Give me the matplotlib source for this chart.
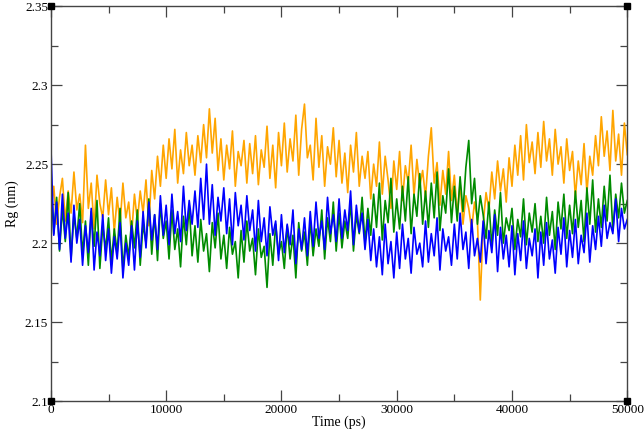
import numpy as np
import matplotlib
matplotlib.use('Agg')
import matplotlib.pyplot as plt

# Rg traces, one sample every 250 ps
time_step = 250
rg_orange = [
    2.220, 2.236, 2.212, 2.229, 2.241, 2.214, 2.233, 2.219, 2.245, 2.221,
    2.231, 2.213, 2.262, 2.222, 2.238, 2.209, 2.243, 2.225, 2.216, 2.240,
    2.218, 2.235, 2.207, 2.229, 2.212, 2.238, 2.216, 2.226, 2.205, 2.231,
    2.214, 2.233, 2.219, 2.240, 2.211, 2.246, 2.228, 2.255, 2.236, 2.262,
    2.241, 2.266, 2.247, 2.272, 2.238, 2.259, 2.244, 2.270, 2.249, 2.262,
    2.243, 2.268, 2.251, 2.275, 2.254, 2.285, 2.257, 2.279, 2.246, 2.266,
    2.240, 2.262, 2.247, 2.271, 2.236, 2.258, 2.249, 2.265, 2.238, 2.263,
    2.244, 2.268, 2.237, 2.259, 2.248, 2.274, 2.241, 2.262, 2.235, 2.270,
    2.249, 2.276, 2.245, 2.266, 2.252, 2.281, 2.243, 2.272, 2.288, 2.254,
    2.262, 2.240, 2.279, 2.248, 2.268, 2.236, 2.261, 2.250, 2.273, 2.242,
    2.265, 2.238, 2.257, 2.232, 2.262, 2.245, 2.270, 2.236, 2.255, 2.241,
    2.258, 2.228, 2.250, 2.236, 2.264, 2.231, 2.255, 2.240, 2.222, 2.252,
    2.234, 2.258, 2.227, 2.249, 2.238, 2.262, 2.230, 2.253, 2.236, 2.246,
    2.229, 2.255, 2.273, 2.238, 2.251, 2.224, 2.246, 2.231, 2.258, 2.227,
    2.243, 2.218, 2.238, 2.212, 2.230, 2.222, 2.209, 2.226, 2.215, 2.164,
    2.212, 2.232, 2.221, 2.245, 2.228, 2.252, 2.233, 2.247, 2.226, 2.254,
    2.236, 2.262, 2.243, 2.268, 2.240, 2.275, 2.251, 2.264, 2.244, 2.270,
    2.248, 2.277, 2.252, 2.266, 2.243, 2.272, 2.250, 2.261, 2.238, 2.266,
    2.246, 2.258, 2.229, 2.252, 2.237, 2.263, 2.232, 2.255, 2.243, 2.268,
    2.249, 2.280, 2.255, 2.271, 2.246, 2.284, 2.252, 2.269, 2.243, 2.276,
    2.256,
]
rg_green = [
    2.238, 2.206, 2.229, 2.195, 2.222, 2.201, 2.232, 2.190, 2.218, 2.203,
    2.225, 2.193, 2.214, 2.186, 2.220, 2.198, 2.227, 2.184, 2.211, 2.196,
    2.216, 2.188, 2.209, 2.194, 2.222, 2.183, 2.205, 2.191, 2.214, 2.197,
    2.221, 2.186, 2.212, 2.200, 2.228, 2.193, 2.218, 2.189, 2.225, 2.203,
    2.214, 2.190, 2.221, 2.196, 2.209, 2.185, 2.217, 2.199, 2.224, 2.192,
    2.211, 2.188, 2.215, 2.195, 2.206, 2.182, 2.213, 2.197, 2.219, 2.190,
    2.205, 2.184, 2.210, 2.193, 2.201, 2.178, 2.208, 2.188, 2.214, 2.195,
    2.203, 2.180, 2.209, 2.191, 2.198, 2.172, 2.206, 2.186, 2.212, 2.193,
    2.201, 2.184, 2.211, 2.190, 2.205, 2.178, 2.213, 2.195, 2.207, 2.186,
    2.214, 2.192, 2.209, 2.198, 2.221, 2.190, 2.216, 2.201, 2.226, 2.195,
    2.219, 2.197, 2.214, 2.203, 2.226, 2.195, 2.218, 2.206, 2.229, 2.200,
    2.222, 2.205, 2.231, 2.210, 2.238, 2.202, 2.227, 2.213, 2.241, 2.207,
    2.228, 2.209, 2.236, 2.214, 2.242, 2.206, 2.231, 2.217, 2.244, 2.212,
    2.233, 2.210, 2.238, 2.216, 2.245, 2.208, 2.230, 2.219, 2.247, 2.213,
    2.236, 2.214, 2.242, 2.220, 2.248, 2.265, 2.225, 2.241, 2.212, 2.230,
    2.218, 2.203, 2.226, 2.198, 2.221, 2.205, 2.232, 2.200, 2.216, 2.208,
    2.222, 2.196, 2.215, 2.204, 2.228, 2.199, 2.219, 2.207, 2.225, 2.201,
    2.217, 2.200, 2.229, 2.205, 2.220, 2.196, 2.226, 2.209, 2.231, 2.203,
    2.224, 2.206, 2.233, 2.210, 2.227, 2.201, 2.235, 2.212, 2.240, 2.207,
    2.228, 2.210, 2.236, 2.214, 2.243, 2.208, 2.231, 2.216, 2.238, 2.219,
    2.227,
]
rg_blue = [
    2.262, 2.205, 2.226, 2.196, 2.231, 2.203, 2.219, 2.188, 2.224, 2.200,
    2.215, 2.186, 2.211, 2.194, 2.222, 2.183, 2.207, 2.192, 2.218, 2.189,
    2.209, 2.181, 2.204, 2.190, 2.213, 2.178, 2.200, 2.186, 2.211, 2.183,
    2.214, 2.191, 2.220, 2.197, 2.226, 2.202, 2.218, 2.196, 2.230, 2.205,
    2.224, 2.199, 2.231, 2.206, 2.220, 2.201, 2.236, 2.208, 2.227, 2.212,
    2.233, 2.210, 2.241, 2.215, 2.250, 2.212, 2.237, 2.205, 2.229, 2.214,
    2.235, 2.206, 2.228, 2.199, 2.232, 2.211, 2.224, 2.202, 2.230, 2.208,
    2.221, 2.195, 2.227, 2.201, 2.216, 2.192, 2.223, 2.205, 2.214, 2.189,
    2.218, 2.194, 2.212, 2.199, 2.221, 2.187, 2.209, 2.196, 2.216, 2.192,
    2.220, 2.198, 2.226, 2.203, 2.214, 2.196, 2.229, 2.206, 2.218, 2.201,
    2.228, 2.203, 2.221, 2.208, 2.233, 2.199, 2.224, 2.207, 2.219, 2.196,
    2.215, 2.189, 2.209, 2.185, 2.204, 2.180, 2.212, 2.187, 2.201, 2.178,
    2.207, 2.184, 2.212, 2.190, 2.203, 2.181, 2.210, 2.193, 2.200, 2.185,
    2.214, 2.188, 2.206, 2.192, 2.216, 2.183, 2.209, 2.195, 2.204, 2.186,
    2.212, 2.190, 2.219, 2.196, 2.207, 2.184, 2.215, 2.192, 2.203, 2.188,
    2.214, 2.187, 2.208, 2.194, 2.218, 2.182, 2.210, 2.190, 2.205, 2.185,
    2.211, 2.180, 2.206, 2.189, 2.214, 2.184, 2.203, 2.192, 2.209, 2.178,
    2.207, 2.186, 2.213, 2.190, 2.202, 2.181, 2.210, 2.193, 2.216, 2.185,
    2.208, 2.191, 2.215, 2.187, 2.205, 2.194, 2.219, 2.188, 2.211, 2.196,
    2.217, 2.198, 2.224, 2.203, 2.213, 2.206, 2.228, 2.201, 2.222, 2.209,
    2.215,
]
time_ps = np.arange(len(rg_orange)) * time_step

plt.rcParams['font.family'] = ['Liberation Serif', 'DejaVu Serif']

fig = plt.figure(figsize=(6.44, 4.37), dpi=100)
ax = fig.add_axes([0.079, 0.082, 0.895, 0.904])

ax.plot(time_ps, rg_orange, color='#ffa500', lw=1.2)
ax.plot(time_ps, rg_green, color='#008b00', lw=1.2)
ax.plot(time_ps, rg_blue, color='#0000ff', lw=1.2)

xlim = (0, 50000)
ylim = (2.1, 2.35)
ax.set_xlim(xlim)
ax.set_ylim(ylim)
ax.set_xticks(np.arange(0, 50001, 10000))
ax.set_xticks(np.arange(5000, 50000, 10000), minor=True)
ax.set_yticks([2.1, 2.15, 2.2, 2.25, 2.3, 2.35])
ax.set_yticklabels(['2.1', '2.15', '2.2', '2.25', '2.3', '2.35'])
ax.set_yticks(np.arange(2.125, 2.35, 0.05), minor=True)

ax.tick_params(which='both', direction='in', top=True, right=True,
               color='#444444', labelsize=9.5, pad=2)
ax.tick_params(which='major', length=8, width=0.9)
ax.tick_params(which='minor', length=5, width=0.9)
for s in ax.spines.values():
    s.set_color('#444444')
    s.set_linewidth(1.0)

# small squares on the corners, as xmgrace draws them
ax.plot([xlim[0], xlim[1], xlim[0], xlim[1]], [ylim[0], ylim[0], ylim[1], ylim[1]],
        's', color='black', ms=4, clip_on=False, zorder=5)

ax.set_xlabel('Time (ps)', fontsize=10, labelpad=0)
ax.set_ylabel('Rg (nm)', fontsize=10, labelpad=4)

plt.savefig('out.png', dpi=100)
